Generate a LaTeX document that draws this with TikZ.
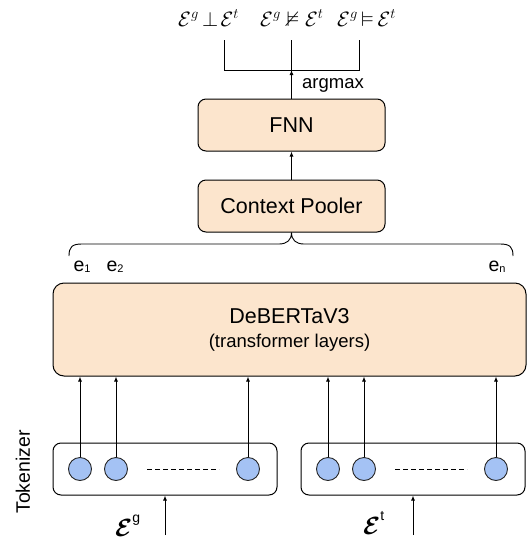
\documentclass[tikz,border=0pt]{standalone}
\usepackage{amsmath,amssymb}
\usepackage{fontspec}
\setmainfont{Liberation Sans}
\usetikzlibrary{arrows.meta}
\definecolor{peach}{HTML}{FCE5CD}
\definecolor{tokblue}{HTML}{A4C2F4}
\newcommand{\fs}[1]{\fontsize{#1}{#1}\selectfont}
\begin{document}
\begin{tikzpicture}[x=1pt,y=-1pt,
  box/.style={draw, fill=peach, rounded corners=8pt, line width=1pt, inner sep=0pt},
  tokbox/.style={draw, rounded corners=8pt, line width=1pt, minimum width=224pt, minimum height=52pt, inner sep=0pt},
  tok/.style={circle, draw=black!85, fill=tokblue, line width=0.9pt, minimum size=23pt, inner sep=0pt},
  arr/.style={line width=0.9pt, -{Latex[length=5pt,width=4pt]}},
  ln/.style={line width=0.9pt},
  elab/.style={inner sep=0pt, font=\fs{19.5}},
  mlab/.style={inner sep=0pt, font=\fs{21}, anchor=west}
]
\useasboundingbox (0,0) rectangle (528,542);

% boxes
\node[box, minimum width=187pt, minimum height=52pt, font=\fs{21.5}] (fnn) at (291.5,125) {FNN};
\node[box, minimum width=187pt, minimum height=52pt, font=\fs{21.5}] (pool) at (291.5,206) {Context Pooler};
\node[box, rounded corners=11pt, minimum width=473pt, minimum height=93pt, align=center, font=\fontsize{21.5}{25}\selectfont] (deb) at (289.5,329.5)
  {DeBERTaV3\\[-1pt]{\fontsize{18.5}{25}\selectfont (transformer layers)}};

% tokenizer boxes
\node[tokbox] (tokL) at (165,469) {};
\node[tokbox] (tokR) at (413,469) {};

\node[tok] (l1) at (80,469) {};
\node[tok] (l2) at (116,469) {};
\node[tok] (l3) at (248,469) {};
\node[tok] (r1) at (328,469) {};
\node[tok] (r2) at (364,469) {};
\node[tok] (r3) at (496,469) {};

\coordinate (dl1) at (147,469); \coordinate (dl2) at (219,469);
\coordinate (dr1) at (395,469); \coordinate (dr2) at (467,469);
\draw[ln, dash pattern=on 5pt off 3pt] (dl1) -- (dl2);
\draw[ln, dash pattern=on 5pt off 3pt] (dr1) -- (dr2);

% arrows tokens -> DeBERTa
\foreach \c in {l1,l2,l3,r1,r2,r3}
  \draw[arr] (\c.north) -- (\c.north |- deb.south);

% inputs
\coordinate (inL) at (165,535);
\coordinate (inR) at (413,535);
\draw[arr] (inL) -- (tokL.south);
\draw[arr] (inR) -- (tokR.south);

\node[inner sep=0pt, anchor=base west] (eg) at (115,536)
  {{\fs{30}$\boldsymbol{\mathcal{E}}$}\raisebox{14pt}{\fs{14}g}};
\node[inner sep=0pt, anchor=base west] (et) at (363,534)
  {{\fs{30}$\boldsymbol{\mathcal{E}}$}\raisebox{14pt}{\fs{14}t}};

\node[rotate=90, inner sep=0pt, font=\fs{19.5}] (tkz) at (23,472) {Tokenizer};

% e labels
\node[elab] (e1) at (82,267) {e\raisebox{-1pt}{\fs{11}1}};
\node[elab] (e2) at (115,267) {e\raisebox{-1pt}{\fs{11}2}};
\node[elab] (en) at (497,267) {e\raisebox{-1pt}{\fs{11}n}};

% brace
\coordinate (brL) at (69,256);
\coordinate (brR) at (513,256);
\draw[ln] (brL) .. controls (69,247) and (72,244) .. (82,244) -- (279,244)
  .. controls (287,244) and (291.5,240) .. (pool.south)
  .. controls (291.5,240) and (296,244) .. (304,244) -- (500,244)
  .. controls (510,244) and (513,247) .. (brR);

% FNN from pool
\draw[arr] (pool.north) -- (fnn.south);

% top output
\coordinate (h1) at (224,70); \coordinate (h2) at (291.5,70); \coordinate (h3) at (359,70);
\coordinate (t1) at (224,40); \coordinate (t2) at (291.5,40); \coordinate (t3) at (359,40);
\draw[ln] (t1) -- (h1) -- (h3) -- (t3);
\draw[ln] (t2) -- (h2);
\draw[arr] (fnn.north) -- (h2);
\node[inner sep=0pt, font=\fs{18.5}, anchor=west] (am) at (302,85) {argmax};

\node[mlab] (o1) at (178,18) {$\mathcal{E}^g\mskip3mu{\bot}\mskip2mu\mathcal{E}^t$};
\node[mlab] (o2) at (260,18) {$\mathcal{E}^g\nvDash\mathcal{E}^t$};
\node[mlab] (o3) at (337,18) {$\mathcal{E}^g\mskip3mu{\vDash}\mskip3mu\mathcal{E}^t$};
\end{tikzpicture}
\end{document}
